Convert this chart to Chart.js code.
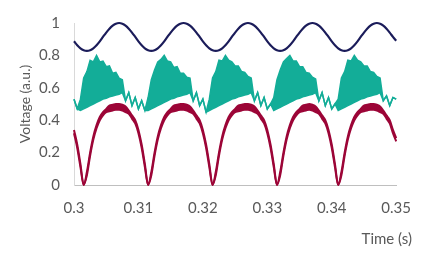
<!DOCTYPE html>
<html>
<head>
<meta charset="utf-8">
<script src="https://cdn.jsdelivr.net/npm/chart.js@4/dist/chart.umd.min.js"></script>
<style>
html,body{margin:0;padding:0;background:#fff;}
canvas{display:block;}
</style>
</head>
<body>
<canvas id="c" width="425" height="254"></canvas>
<script>
// ---- data ----
const xTitle = "Time (s)";
const yTitle = "Voltage (a.u.)";
const xTickLabels = ["0.3", "0.31", "0.32", "0.33", "0.34", "0.35"];
const yTickLabels = ["0", "0.2", "0.4", "0.6", "0.8", "1"];

const time = [
  0.3000,0.3005,0.3010,0.3015,0.3020,0.3025,0.3030,0.3035,0.3040,0.3045,
  0.3050,0.3055,0.3060,0.3065,0.3070,0.3075,0.3080,0.3085,0.3090,0.3095,
  0.3100,0.3105,0.3110,0.3115,0.3120,0.3125,0.3130,0.3135,0.3140,0.3145,
  0.3150,0.3155,0.3160,0.3165,0.3170,0.3175,0.3180,0.3185,0.3190,0.3195,
  0.3200,0.3205,0.3210,0.3215,0.3220,0.3225,0.3230,0.3235,0.3240,0.3245,
  0.3250,0.3255,0.3260,0.3265,0.3270,0.3275,0.3280,0.3285,0.3290,0.3295,
  0.3300,0.3305,0.3310,0.3315,0.3320,0.3325,0.3330,0.3335,0.3340,0.3345,
  0.3350,0.3355,0.3360,0.3365,0.3370,0.3375,0.3380,0.3385,0.3390,0.3395,
  0.3400,0.3405,0.3410,0.3415,0.3420,0.3425,0.3430,0.3435,0.3440,0.3445,
  0.3450,0.3455,0.3460,0.3465,0.3470,0.3475,0.3480,0.3485,0.3490,0.3495,
  0.3500
];

const navy = [
  0.887,0.863,0.844,0.832,0.828,0.832,0.844,0.863,0.887,0.914,
  0.941,0.965,0.984,0.996,1.000,0.996,0.984,0.965,0.941,0.914,
  0.887,0.863,0.844,0.832,0.828,0.832,0.844,0.863,0.887,0.914,
  0.941,0.965,0.984,0.996,1.000,0.996,0.984,0.965,0.941,0.914,
  0.887,0.863,0.844,0.832,0.828,0.832,0.844,0.863,0.887,0.914,
  0.941,0.965,0.984,0.996,1.000,0.996,0.984,0.965,0.941,0.914,
  0.887,0.863,0.844,0.832,0.828,0.832,0.844,0.863,0.887,0.914,
  0.941,0.965,0.984,0.996,1.000,0.996,0.984,0.965,0.941,0.914,
  0.887,0.863,0.844,0.832,0.828,0.832,0.844,0.863,0.887,0.914,
  0.941,0.965,0.984,0.996,1.000,0.996,0.984,0.965,0.941,0.914,
  0.890
];

const tealUpper = [
  0.53,0.47,0.53,0.66,0.70,0.77,0.76,0.80,0.76,0.765,
  0.73,0.735,0.69,0.695,0.66,0.65,0.52,0.57,0.49,0.54,
  0.47,0.52,0.46,0.54,0.65,0.71,0.76,0.775,0.80,0.765,
  0.76,0.725,0.73,0.69,0.69,0.665,0.66,0.52,0.57,0.49,
  0.53,0.45,0.53,0.66,0.70,0.77,0.765,0.80,0.77,0.76,
  0.735,0.735,0.70,0.695,0.67,0.66,0.52,0.57,0.49,0.54,
  0.47,0.50,0.54,0.65,0.71,0.76,0.78,0.80,0.765,0.765,
  0.73,0.73,0.695,0.69,0.665,0.655,0.52,0.57,0.49,0.54,
  0.47,0.50,0.53,0.66,0.70,0.77,0.765,0.80,0.77,0.76,
  0.735,0.735,0.70,0.695,0.67,0.66,0.52,0.55,0.49,0.54,
  0.53
];

const tealLower = [
  0.53,0.47,0.46,0.47,0.48,0.49,0.50,0.51,0.52,0.53,
  0.535,0.545,0.55,0.555,0.56,0.57,0.52,0.57,0.49,0.54,
  0.47,0.52,0.46,0.46,0.47,0.48,0.49,0.50,0.51,0.52,
  0.53,0.535,0.545,0.55,0.555,0.56,0.57,0.52,0.57,0.49,
  0.53,0.45,0.46,0.47,0.48,0.49,0.50,0.51,0.52,0.53,
  0.535,0.545,0.55,0.555,0.56,0.57,0.52,0.57,0.49,0.54,
  0.47,0.50,0.46,0.47,0.48,0.49,0.50,0.51,0.52,0.53,
  0.535,0.545,0.55,0.555,0.56,0.57,0.52,0.57,0.49,0.54,
  0.47,0.50,0.46,0.47,0.48,0.49,0.50,0.51,0.52,0.53,
  0.535,0.545,0.55,0.555,0.56,0.57,0.52,0.55,0.49,0.54,
  0.53
];

const crimsonUpper = [
  0.34,0.25,0.13,0.00,0.08,0.20,0.30,0.37,0.42,0.45,
  0.47,0.49,0.495,0.50,0.50,0.495,0.485,0.46,0.43,0.40,
  0.34,0.25,0.13,0.00,0.08,0.20,0.30,0.37,0.42,0.45,
  0.47,0.49,0.495,0.50,0.50,0.495,0.485,0.46,0.43,0.40,
  0.34,0.25,0.13,0.00,0.08,0.20,0.30,0.37,0.42,0.45,
  0.47,0.49,0.495,0.50,0.50,0.495,0.485,0.46,0.43,0.40,
  0.34,0.25,0.13,0.00,0.08,0.20,0.30,0.37,0.42,0.45,
  0.47,0.49,0.495,0.50,0.495,0.485,0.46,0.43,0.40,0.34,
  0.25,0.13,0.00,0.08,0.20,0.30,0.37,0.42,0.45,0.47,
  0.49,0.495,0.50,0.50,0.495,0.485,0.46,0.43,0.40,0.34,
  0.29
];

const crimsonLower = [
  0.32,0.23,0.11,0.00,0.06,0.18,0.28,0.35,0.40,0.43,
  0.45,0.455,0.46,0.465,0.465,0.46,0.45,0.44,0.41,0.38,
  0.32,0.23,0.11,0.00,0.06,0.18,0.28,0.35,0.40,0.43,
  0.45,0.455,0.46,0.465,0.465,0.46,0.45,0.44,0.41,0.38,
  0.32,0.23,0.11,0.00,0.06,0.18,0.28,0.35,0.40,0.43,
  0.45,0.455,0.46,0.465,0.465,0.46,0.45,0.44,0.41,0.38,
  0.32,0.23,0.11,0.00,0.06,0.18,0.28,0.35,0.40,0.43,
  0.45,0.455,0.46,0.465,0.46,0.45,0.44,0.41,0.38,0.32,
  0.23,0.11,0.00,0.06,0.18,0.28,0.35,0.40,0.43,0.45,
  0.455,0.46,0.465,0.465,0.46,0.45,0.44,0.41,0.38,0.32,
  0.27
];

// ---- styling ----
const NAVY = "#1b1c5a";
const TEAL = "#13ad98";
const CRIMSON = "#9c0537";
const TXT = "#595959";
const FONT = "Lato, 'Open Sans', sans-serif";

function pts(arr) { return time.map((t, i) => ({ x: t, y: arr[i] })); }
function labelFor(list, v) {
  const hit = list.find(s => Math.abs(parseFloat(s) - v) < 1e-6);
  return hit === undefined ? "" : hit;
}

const base = { pointRadius: 0, clip: false, tension: 0 };

const xTitlePlugin = {
  id: "xTitle",
  afterDraw(chart) {
    const c = chart.ctx;
    c.save();
    c.font = "15px " + FONT;
    c.fillStyle = TXT;
    c.textAlign = "right";
    c.textBaseline = "middle";
    c.fillText(xTitle, 412, 239);
    c.restore();
  }
};

new Chart(document.getElementById("c"), {
  type: "line",
  data: {
    datasets: [
      Object.assign({}, base, { data: pts(crimsonLower), borderColor: CRIMSON, borderWidth: 2, fill: false, cubicInterpolationMode: "monotone" }),
      Object.assign({}, base, { data: pts(crimsonUpper), borderColor: CRIMSON, backgroundColor: CRIMSON, borderWidth: 2, fill: "-1", cubicInterpolationMode: "monotone" }),
      Object.assign({}, base, { data: pts(tealLower), borderColor: TEAL, borderWidth: 1.5, fill: false }),
      Object.assign({}, base, { data: pts(tealUpper), borderColor: TEAL, backgroundColor: TEAL, borderWidth: 1.5, fill: "-1" }),
      Object.assign({}, base, { data: pts(navy), borderColor: NAVY, borderWidth: 2.2, fill: false, cubicInterpolationMode: "monotone" })
    ]
  },
  options: {
    responsive: false,
    animation: false,
    events: [],
    layout: { padding: { left: 0, right: 28, top: 17, bottom: 0 } },
    plugins: { legend: { display: false }, tooltip: { enabled: false } },
    scales: {
      x: {
        type: "linear",
        min: 0.3,
        max: 0.35,
        afterFit(s) { s.height = 69; },
        grid: { display: false, drawTicks: false },
        border: { display: true, color: "#bfbfbf", width: 1 },
        ticks: {
          stepSize: 0.01,
          padding: 14,
          color: TXT,
          font: { family: FONT, size: 15 },
          maxRotation: 0,
          autoSkip: false,
          callback: v => labelFor(xTickLabels, v)
        }
      },
      y: {
        min: 0,
        max: 1,
        afterFit(s) { s.width = 74; },
        grid: { display: false, drawTicks: false },
        border: { display: true, color: "#d9d9d9", width: 1 },
        ticks: {
          stepSize: 0.2,
          padding: 14,
          color: TXT,
          font: { family: FONT, size: 15 },
          callback: v => labelFor(yTickLabels, v)
        },
        title: {
          display: true,
          text: yTitle,
          color: TXT,
          font: { family: FONT, size: 14 },
          padding: { top: 17, bottom: 0 }
        }
      }
    }
  },
  plugins: [xTitlePlugin]
});
</script>
</body>
</html>
